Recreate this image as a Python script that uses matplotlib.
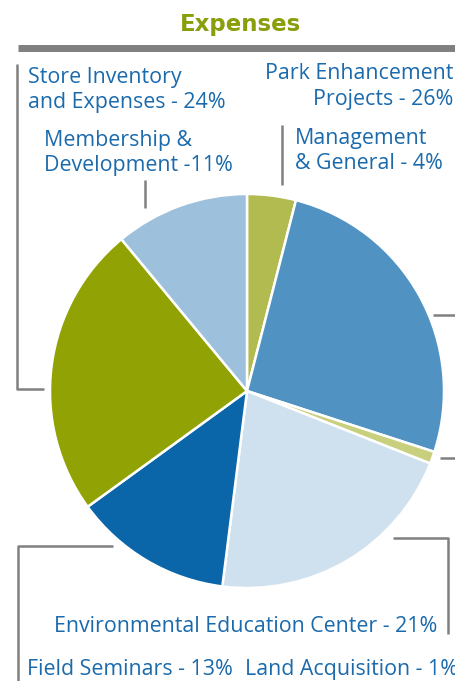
import matplotlib
matplotlib.use('Agg')
import matplotlib.pyplot as plt

# expense shares, clockwise from 12 o'clock
labels = ['Management & General', 'Park Enhancement Projects', 'Land Acquisition',
          'Environmental Education Center', 'Field Seminars',
          'Store Inventory and Expenses', 'Membership & Development']
values = [4, 26, 1, 21, 13, 24, 11]
colors = ['#b2bb50', '#5093c3', '#c8d07e', '#cfe1ef', '#0a66a9', '#91a204', '#9dc1dd']

W, H = 455, 681
fig = plt.figure(figsize=(W / 100, H / 100), dpi=100)
ax = fig.add_axes([0, 0, 1, 1])

def Y(y):
    return H - y

ax.pie(values, colors=colors, startangle=90, counterclock=False,
       center=(247, Y(391)), radius=197, frame=True,
       wedgeprops=dict(edgecolor='white', linewidth=1.8))
ax.set_xlim(0, W)
ax.set_ylim(0, H)
ax.set_aspect('equal')
ax.axis('off')

# title + bar
ax.text(241, Y(25), 'Expenses', ha='center', va='center', fontsize=16.5,
        fontweight='bold', color='#8a9e0a', family=['DejaVu Sans'])
ax.plot([18, W], [Y(48), Y(48)], color='#808080', lw=5, solid_capstyle='butt')

gray = '#808080'
lw = 1.8
def line(xs, ys):
    ax.plot(xs, [Y(v) for v in ys], color=gray, lw=lw, solid_capstyle='butt')

line([17, 17, 44], [64, 389, 389])          # store
line([145, 145], [180, 208])                # membership
line([282, 282], [125, 185])                # management
line([433, W], [315, 315])                  # park
line([440, W], [458, 458])                  # land
line([393, 448, 448], [538, 538, 634])      # env ed
line([113, 18, 18], [546, 546, H])          # field

tc = '#1a6aac'
fs = 15.4
fam = ['Open Sans', 'DejaVu Sans']
def txt(x, y, s, ha='left'):
    ax.text(x, Y(y), s, ha=ha, va='baseline', fontsize=fs, color=tc, family=fam)

txt(28, 83, 'Store Inventory')
txt(28, 108, 'and Expenses - %d%%' % values[5])
txt(453, 79, 'Park Enhancement', 'right')
txt(453, 105, 'Projects - %d%%' % values[1], 'right')
txt(44, 146, 'Membership &')
txt(44, 171, 'Development -%d%%' % values[6])
txt(295, 144, 'Management')
txt(295, 169, '& General - %d%%' % values[0])
txt(437, 632, 'Environmental Education Center - %d%%' % values[3], 'right')
txt(27, 675, 'Field Seminars - %d%%' % values[4])
txt(245, 675, 'Land Acquisition - %d%%' % values[2])

fig.savefig('out.png', dpi=100)
